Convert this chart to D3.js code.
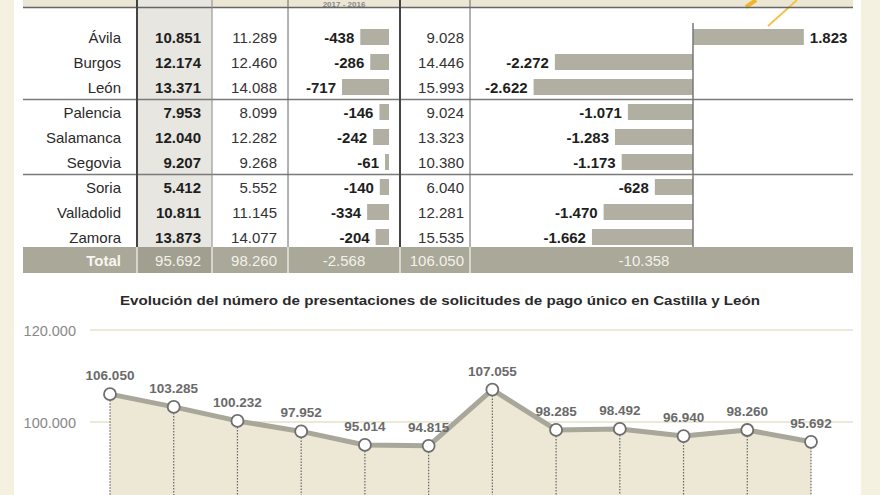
<!DOCTYPE html>
<html><head><meta charset="utf-8">
<script src="https://cdn.jsdelivr.net/npm/d3@7"></script>
<style>
html,body{margin:0;padding:0;background:#fff;}
svg{display:block;font-family:"Liberation Sans",Arial,sans-serif;}
</style></head>
<body><svg id="c" width="880" height="495"></svg>
<script>
// ---- data ----
const provinces = ["Ávila","Burgos","León","Palencia","Salamanca","Segovia","Soria","Valladolid","Zamora"];
const val2017 = [10851,12174,13371,7953,12040,9207,5412,10811,13873];
const val2016 = [11289,12460,14088,8099,12282,9268,5552,11145,14077];
const diffYear = [-438,-286,-717,-146,-242,-61,-140,-334,-204];
const val2006 = [9028,14446,15993,9024,13323,10380,6040,12281,15535];
const diffFirst = [1823,-2272,-2622,-1071,-1283,-1173,-628,-1470,-1662];
const totalLabel = "Total";
const totals = [95692,98260,-2568,106050,-10358];
const headerText = "2017 - 2016";
const years = ["2006","2007","2008","2009","2010","2011","2012","2013","2014","2015","2016","2017"];
const series = [106050,103285,100232,97952,95014,94815,107055,98285,98492,96940,98260,95692];
const yTicks = [100000,120000];
const chartTitle = "Evolución del número de presentaciones de solicitudes de pago único en Castilla y León";

const loc = d3.formatLocale({decimal:",",thousands:".",grouping:[3],currency:["","€"],minus:"-"});
const fmt = loc.format(",d");

const svg = d3.select("#c");
// backgrounds
svg.append("rect").attr("x",0).attr("y",0).attr("width",880).attr("height",495).attr("fill","#f4f1e0");
svg.append("rect").attr("x",14).attr("y",0).attr("width",847).attr("height",495).attr("fill","#ffffff");
// header band
svg.append("rect").attr("x",23).attr("y",0).attr("width",830).attr("height",7).attr("fill","#ece7d5");
// grey column
svg.append("rect").attr("x",137).attr("y",0).attr("width",75).attr("height",247).attr("fill","#e7e6e1");
svg.append("text").attr("x",344).attr("y",6.5).attr("text-anchor","middle").attr("font-size",8).attr("font-weight","bold").attr("fill","#888").text(headerText);

// pencil decoration
svg.append("line").attr("x1",746).attr("y1",7).attr("x2",756).attr("y2",0).attr("stroke","#f0b52a").attr("stroke-width",4);
svg.append("line").attr("x1",768).attr("y1",26).attr("x2",797).attr("y2",0).attr("stroke","#f3c24a").attr("stroke-width",2);

const rowY = d3.scalePoint().domain(provinces).range([37,237]);

// header line
svg.append("line").attr("x1",23).attr("x2",853).attr("y1",7.5).attr("y2",7.5).attr("stroke","#666").attr("stroke-width",1.5);
// separators
[99.5,174.5].forEach(y=>svg.append("line").attr("x1",23).attr("x2",853).attr("y1",y).attr("y2",y).attr("stroke","#7a7a7a").attr("stroke-width",1.5));
// vertical lines
[[137,2,"#444"],[212,1,"#888"],[288,1,"#666"],[400,2,"#444"],[470,1,"#666"]].forEach(([x,w,c])=>{
  svg.append("line").attr("x1",x).attr("x2",x).attr("y1",0).attr("y2",247).attr("stroke",c).attr("stroke-width",w);
});

const fs = 15;
const rows = svg.append("g");
provinces.forEach((p,i)=>{
  const y = rowY(p);
  rows.append("text").attr("x",121).attr("y",y+5.5).attr("text-anchor","end").attr("font-size",fs).attr("fill","#2a2a2a").text(p);
  rows.append("text").attr("x",201).attr("y",y+5.5).attr("text-anchor","end").attr("font-size",fs).attr("font-weight","bold").attr("fill","#1e1e1e").text(fmt(val2017[i]));
  rows.append("text").attr("x",277).attr("y",y+5.5).attr("text-anchor","end").attr("font-size",fs).attr("fill","#333").text(fmt(val2016[i]));
  rows.append("text").attr("x",464).attr("y",y+5.5).attr("text-anchor","end").attr("font-size",fs).attr("fill","#333").text(fmt(val2006[i]));
});

// small diff bars
const xd = d3.scaleLinear().domain([-1000,0]).range([389-65.5,389]);
provinces.forEach((p,i)=>{
  const y = rowY(p), v = diffYear[i];
  rows.append("rect").attr("x",xd(v)).attr("y",y-8).attr("width",xd(0)-xd(v)).attr("height",16).attr("fill","#b0afa2");
  rows.append("text").attr("x",xd(v)-6).attr("y",y+5.5).attr("text-anchor","end").attr("font-size",fs).attr("font-weight","bold").attr("fill","#1e1e1e").text(fmt(v));
});

// diverging bars
const xf = d3.scaleLinear().domain([-3000,2000]).range([693-182.4,693+121.6]);
provinces.forEach((p,i)=>{
  const y = rowY(p), v = diffFirst[i];
  const x0 = Math.min(xf(0),xf(v)), w = Math.abs(xf(v)-xf(0));
  rows.append("rect").attr("x",x0).attr("y",y-8).attr("width",w).attr("height",16).attr("fill","#b0afa2");
  rows.append("text").attr("x",v<0?xf(v)-6:xf(v)+6).attr("y",y+5.5).attr("text-anchor",v<0?"end":"start").attr("font-size",fs).attr("font-weight","bold").attr("fill","#1e1e1e").text(fmt(v));
});
svg.append("line").attr("x1",xf(0)).attr("x2",xf(0)).attr("y1",23).attr("y2",247).attr("stroke","#777").attr("stroke-width",1.5);

// total row
svg.append("rect").attr("x",23).attr("y",247).attr("width",830).attr("height",26).attr("fill","#a9a899");
svg.append("rect").attr("x",137).attr("y",247).attr("width",75).attr("height",26).attr("fill","#a09f90");
[137,212,288,400,470].forEach(x=>svg.append("line").attr("x1",x).attr("x2",x).attr("y1",247).attr("y2",273).attr("stroke","#e8e7de").attr("stroke-width",1.5));
const ty = 266;
svg.append("text").attr("x",121).attr("y",ty).attr("text-anchor","end").attr("font-size",fs).attr("font-weight","bold").attr("fill","#f7f6f0").text(totalLabel);
const tpos = [[201,"end"],[277,"end"],[344,"middle"],[464,"end"],[644,"middle"]];
totals.forEach((v,i)=>svg.append("text").attr("x",tpos[i][0]).attr("y",ty).attr("text-anchor",tpos[i][1]).attr("font-size",fs).attr("fill","#f3f2ea").text(fmt(v)));

// ---- line chart ----
svg.append("text").attr("x",440).attr("y",305).attr("text-anchor","middle").attr("font-size",13).attr("font-weight","bold").attr("fill","#2a2a2a").attr("textLength",640).attr("lengthAdjust","spacingAndGlyphs").text(chartTitle);

const x = d3.scalePoint().domain(years).range([110,811]);
const y = d3.scaleLinear().domain([100000,120000]).range([422,330]);
const bottom = 495;

yTicks.forEach(t=>{
  svg.append("line").attr("x1",90).attr("x2",853).attr("y1",y(t)).attr("y2",y(t)).attr("stroke","#ece9d8").attr("stroke-width",2);
  svg.append("text").attr("x",76).attr("y",y(t)+5.5).attr("text-anchor","end").attr("font-size",14.5).attr("fill","#888").text(fmt(t));
});

const area = d3.area().x((d,i)=>x(years[i])).y0(bottom).y1(d=>y(d));
svg.append("path").attr("d",area(series)).attr("fill","#ede7d6");
series.forEach((v,i)=>{
  svg.append("line").attr("x1",x(years[i])).attr("x2",x(years[i])).attr("y1",y(v)).attr("y2",bottom).attr("stroke","#666").attr("stroke-width",1.2).attr("stroke-dasharray","1.5,1.5");
});
const line = d3.line().x((d,i)=>x(years[i])).y(d=>y(d));
svg.append("path").attr("d",line(series)).attr("fill","none").attr("stroke","#a8a79a").attr("stroke-width",5).attr("stroke-linejoin","round");
series.forEach((v,i)=>{
  svg.append("circle").attr("cx",x(years[i])).attr("cy",y(v)).attr("r",6).attr("fill","#fff").attr("stroke","#6e6e6e").attr("stroke-width",1.8);
  svg.append("text").attr("x",x(years[i])).attr("y",y(v)-14).attr("text-anchor","middle").attr("font-size",13.5).attr("font-weight","bold").attr("fill","#6a6a6a").text(fmt(v));
});
</script></body></html>
